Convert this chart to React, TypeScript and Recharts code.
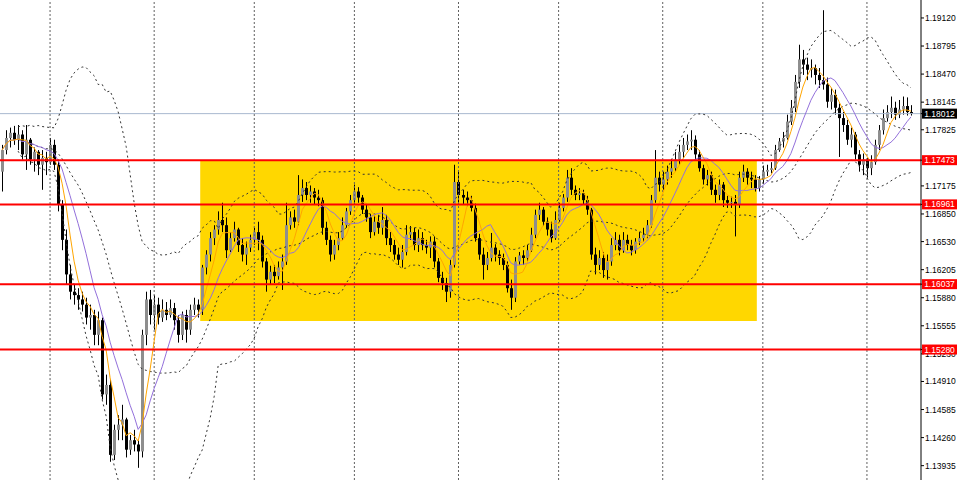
import React from 'react';
import { ComposedChart, Bar, Line, XAxis, YAxis, ReferenceLine, ReferenceArea } from 'recharts';

const opens = [
1.1734,1.1759,1.1773,1.1779,1.1771,1.1777,1.1754,1.1771,1.1748,1.1757,1.1742,1.1750,1.1745,1.1765,1.1742,1.1696,1.1655,1.1615,1.1595,1.1591,
1.1586,1.1580,1.1565,1.1568,1.1545,1.1562,1.1476,1.1487,1.1406,1.1435,1.1441,1.1447,1.1412,1.1423,1.1418,1.1410,1.1545,1.1586,1.1568,1.1580,
1.1565,1.1574,1.1568,1.1576,1.1562,1.1545,1.1568,1.1551,1.1574,1.1580,1.1574,1.1623,1.1638,1.1657,1.1667,1.1678,1.1672,1.1643,1.1657,1.1667,
1.1649,1.1638,1.1646,1.1655,1.1664,1.1655,1.1630,1.1609,1.1618,1.1613,1.1623,1.1630,1.1672,1.1681,1.1676,1.1707,1.1715,1.1707,1.1711,1.1704,
1.1701,1.1669,1.1655,1.1638,1.1649,1.1657,1.1672,1.1688,1.1701,1.1711,1.1704,1.1690,1.1681,1.1664,1.1676,1.1669,1.1678,1.1657,1.1649,1.1638,
1.1632,1.1641,1.1661,1.1664,1.1649,1.1657,1.1649,1.1646,1.1653,1.1630,1.1611,1.1605,1.1595,1.1626,1.1722,1.1707,1.1704,1.1701,1.1692,1.1657,
1.1638,1.1626,1.1634,1.1646,1.1638,1.1634,1.1626,1.1599,1.1588,1.1630,1.1637,1.1634,1.1643,1.1661,1.1684,1.1690,1.1676,1.1667,1.1657,1.1678,
1.1692,1.1704,1.1727,1.1713,1.1707,1.1709,1.1701,1.1690,1.1638,1.1626,1.1634,1.1620,1.1630,1.1649,1.1655,1.1643,1.1655,1.1649,1.1643,1.1653,
1.1657,1.1661,1.1672,1.1701,1.1727,1.1719,1.1725,1.1734,1.1738,1.1748,1.1757,1.1765,1.1769,1.1771,1.1754,1.1738,1.1725,1.1730,1.1713,1.1707,
1.1719,1.1701,1.1698,1.1699,1.1696,1.1727,1.1734,1.1727,1.1725,1.1715,1.1725,1.1734,1.1736,1.1738,1.1759,1.1769,1.1773,1.1792,1.1808,1.1838,
1.1864,1.1858,1.1852,1.1854,1.1846,1.1840,1.1835,1.1815,1.1823,1.1808,1.1796,1.1788,1.1771,1.1777,1.1754,1.1742,1.1748,1.1738,1.1745,1.1765,
1.1782,1.1796,1.1803,1.1808,1.1800,1.1806,1.1810,1.1803
];

const highs = [
1.1765,1.1782,1.1785,1.1787,1.1788,1.1782,1.1788,1.1773,1.1762,1.1759,1.1759,1.1757,1.1773,1.1771,1.1748,1.1701,1.1667,1.1626,1.1603,1.1599,
1.1595,1.1588,1.1580,1.1574,1.1572,1.1565,1.1499,1.1493,1.1441,1.1452,1.1464,1.1449,1.1429,1.1435,1.1423,1.1551,1.1595,1.1597,1.1591,1.1588,
1.1586,1.1583,1.1586,1.1582,1.1568,1.1572,1.1574,1.1580,1.1588,1.1586,1.1626,1.1643,1.1664,1.1672,1.1688,1.1698,1.1681,1.1664,1.1676,1.1669,
1.1657,1.1653,1.1661,1.1669,1.1676,1.1660,1.1634,1.1625,1.1626,1.1630,1.1638,1.1698,1.1688,1.1690,1.1730,1.1725,1.1722,1.1718,1.1715,1.1713,
1.1704,1.1676,1.1660,1.1655,1.1664,1.1681,1.1692,1.1707,1.1719,1.1716,1.1707,1.1696,1.1685,1.1683,1.1684,1.1693,1.1684,1.1664,1.1655,1.1646,
1.1649,1.1672,1.1671,1.1669,1.1667,1.1664,1.1655,1.1659,1.1659,1.1634,1.1618,1.1611,1.1632,1.1742,1.1734,1.1713,1.1711,1.1706,1.1697,1.1662,
1.1646,1.1641,1.1663,1.1650,1.1643,1.1639,1.1630,1.1609,1.1635,1.1641,1.1643,1.1649,1.1669,1.1690,1.1698,1.1693,1.1681,1.1676,1.1688,1.1698,
1.1708,1.1736,1.1738,1.1718,1.1715,1.1713,1.1706,1.1692,1.1646,1.1643,1.1641,1.1638,1.1657,1.1664,1.1661,1.1664,1.1661,1.1655,1.1657,1.1664,
1.1669,1.1678,1.1707,1.1759,1.1734,1.1734,1.1741,1.1748,1.1757,1.1765,1.1773,1.1777,1.1782,1.1776,1.1759,1.1742,1.1736,1.1734,1.1719,1.1725,
1.1722,1.1706,1.1705,1.1707,1.1734,1.1742,1.1738,1.1734,1.1730,1.1729,1.1741,1.1742,1.1745,1.1765,1.1773,1.1780,1.1800,1.1817,1.1846,1.1881,
1.1875,1.1866,1.1864,1.1858,1.1854,1.1921,1.1843,1.1831,1.1829,1.1813,1.1803,1.1794,1.1785,1.1780,1.1759,1.1755,1.1750,1.1753,1.1771,1.1788,
1.1806,1.1811,1.1821,1.1815,1.1817,1.1821,1.1820,1.1811
];

const lows = [
1.1711,1.1754,1.1762,1.1765,1.1759,1.1748,1.1736,1.1742,1.1734,1.1730,1.1713,1.1730,1.1742,1.1736,1.1688,1.1643,1.1603,1.1586,1.1580,1.1574,
1.1572,1.1557,1.1551,1.1533,1.1533,1.1470,1.1464,1.1398,1.1400,1.1423,1.1423,1.1403,1.1406,1.1410,1.1391,1.1403,1.1533,1.1557,1.1551,1.1557,
1.1560,1.1562,1.1565,1.1551,1.1536,1.1539,1.1536,1.1545,1.1568,1.1565,1.1568,1.1615,1.1630,1.1649,1.1661,1.1664,1.1634,1.1641,1.1653,1.1641,
1.1630,1.1626,1.1641,1.1649,1.1643,1.1623,1.1595,1.1603,1.1605,1.1609,1.1597,1.1626,1.1667,1.1669,1.1672,1.1699,1.1701,1.1698,1.1696,1.1694,
1.1661,1.1649,1.1630,1.1632,1.1643,1.1655,1.1669,1.1684,1.1696,1.1698,1.1685,1.1676,1.1657,1.1660,1.1662,1.1661,1.1649,1.1641,1.1632,1.1626,
1.1623,1.1637,1.1655,1.1643,1.1641,1.1643,1.1639,1.1634,1.1623,1.1606,1.1597,1.1583,1.1588,1.1623,1.1698,1.1696,1.1694,1.1688,1.1653,1.1632,
1.1609,1.1620,1.1630,1.1630,1.1626,1.1620,1.1594,1.1574,1.1583,1.1626,1.1626,1.1630,1.1641,1.1657,1.1678,1.1671,1.1660,1.1652,1.1655,1.1675,
1.1688,1.1699,1.1707,1.1701,1.1701,1.1696,1.1684,1.1632,1.1615,1.1620,1.1611,1.1609,1.1625,1.1643,1.1637,1.1640,1.1643,1.1637,1.1639,1.1649,
1.1653,1.1657,1.1669,1.1698,1.1711,1.1713,1.1719,1.1727,1.1734,1.1742,1.1750,1.1759,1.1759,1.1748,1.1734,1.1719,1.1718,1.1707,1.1698,1.1701,
1.1693,1.1692,1.1692,1.1659,1.1692,1.1722,1.1719,1.1715,1.1711,1.1711,1.1720,1.1729,1.1732,1.1736,1.1757,1.1762,1.1771,1.1788,1.1803,1.1831,
1.1846,1.1840,1.1843,1.1835,1.1831,1.1829,1.1808,1.1806,1.1800,1.1751,1.1780,1.1765,1.1762,1.1748,1.1734,1.1730,1.1727,1.1730,1.1742,1.1759,
1.1777,1.1792,1.1796,1.1794,1.1796,1.1800,1.1799,1.1799
];

const closes = [
1.1759,1.1773,1.1779,1.1771,1.1777,1.1754,1.1771,1.1748,1.1757,1.1742,1.1750,1.1745,1.1765,1.1742,1.1696,1.1655,1.1615,1.1595,1.1591,1.1586,
1.1580,1.1565,1.1568,1.1545,1.1562,1.1476,1.1487,1.1406,1.1435,1.1441,1.1447,1.1412,1.1423,1.1418,1.1410,1.1545,1.1586,1.1568,1.1580,1.1565,
1.1574,1.1568,1.1576,1.1562,1.1545,1.1568,1.1551,1.1574,1.1580,1.1574,1.1623,1.1638,1.1657,1.1667,1.1678,1.1672,1.1643,1.1657,1.1667,1.1649,
1.1638,1.1646,1.1655,1.1664,1.1655,1.1630,1.1609,1.1618,1.1613,1.1623,1.1630,1.1672,1.1681,1.1676,1.1707,1.1715,1.1707,1.1711,1.1704,1.1701,
1.1669,1.1655,1.1638,1.1649,1.1657,1.1672,1.1688,1.1701,1.1711,1.1704,1.1690,1.1681,1.1664,1.1676,1.1669,1.1678,1.1657,1.1649,1.1638,1.1632,
1.1641,1.1661,1.1664,1.1649,1.1657,1.1649,1.1646,1.1653,1.1630,1.1611,1.1605,1.1595,1.1626,1.1722,1.1707,1.1704,1.1701,1.1692,1.1657,1.1638,
1.1626,1.1634,1.1646,1.1638,1.1634,1.1626,1.1599,1.1588,1.1630,1.1637,1.1634,1.1643,1.1661,1.1684,1.1690,1.1676,1.1667,1.1657,1.1678,1.1692,
1.1704,1.1727,1.1713,1.1707,1.1709,1.1701,1.1690,1.1638,1.1626,1.1634,1.1620,1.1630,1.1649,1.1655,1.1643,1.1655,1.1649,1.1643,1.1653,1.1657,
1.1661,1.1672,1.1701,1.1727,1.1719,1.1725,1.1734,1.1738,1.1748,1.1757,1.1765,1.1769,1.1771,1.1754,1.1738,1.1725,1.1730,1.1713,1.1707,1.1719,
1.1701,1.1698,1.1699,1.1696,1.1727,1.1734,1.1727,1.1725,1.1715,1.1725,1.1734,1.1736,1.1738,1.1759,1.1769,1.1773,1.1792,1.1808,1.1838,1.1864,
1.1858,1.1852,1.1854,1.1846,1.1840,1.1835,1.1815,1.1823,1.1808,1.1796,1.1788,1.1771,1.1777,1.1754,1.1742,1.1748,1.1738,1.1745,1.1765,1.1782,
1.1796,1.1803,1.1808,1.1800,1.1806,1.1810,1.1803,1.1801
];

// empty bar slots to the right of the last candle (chart shift)
const SHIFT_SLOTS = 2;

const priceTicks = [1.1912, 1.18795, 1.1847, 1.18145, 1.17825, 1.17175, 1.1685, 1.1653, 1.16205, 1.1588, 1.15555, 1.1523, 1.1491, 1.14585, 1.1426, 1.13935];
const levelPrices = [1.17473, 1.16961, 1.16037, 1.1528];
const bidPrice = 1.18012;
const boxFromBar = 50;
const boxToBar = 188;
const boxTop = 1.17473;
const boxBottom = 1.1561;
const gridBars = [12, 38, 63, 88, 114, 139, 165, 190, 216];
const yDomain: [number, number] = [1.13769, 1.19328];

const FAST = 5;
const SLOW = 10;
const BB_PERIOD = 20;
const BB_DEV = 2;

const windowOf = (arr: number[], n: number, i: number) => arr.slice(Math.max(0, i - n + 1), i + 1);
const mean = (w: number[]) => w.reduce((a, b) => a + b, 0) / w.length;

const candleRows = closes.map((c, i) => {
  const bw = windowOf(closes, BB_PERIOD, i);
  const m = mean(bw);
  const sd = Math.sqrt(bw.reduce((a, v) => a + (v - m) * (v - m), 0) / bw.length);
  const showBB = i >= 4;
  return {
    i,
    o: opens[i],
    h: highs[i],
    l: lows[i],
    c,
    range: [lows[i], highs[i]],
    fast: mean(windowOf(closes, FAST, i)),
    slow: mean(windowOf(closes, SLOW, i)),
    bbUp: showBB ? m + BB_DEV * sd : null,
    bbMid: showBB ? m : null,
    bbLow: showBB ? m - BB_DEV * sd : null,
  };
});
const emptyRows = Array.from({ length: SHIFT_SLOTS }, (_, k) => ({ i: closes.length + k }));
const data: any[] = [...candleRows, ...emptyRows];

const FONT = 'Liberation Sans, Arial, sans-serif';

const tagColor = (v: number): string | null => {
  if (Math.abs(v - bidPrice) < 1e-9) return '#000000';
  if (levelPrices.some((p) => Math.abs(p - v) < 1e-9)) return '#ff0000';
  return null;
};

const axisTicks = [...priceTicks, bidPrice, ...levelPrices];

const AxisTick = (props: any) => {
  const { x, y, payload } = props;
  const v = payload.value as number;
  const bg = tagColor(v);
  if (bg) {
    return (
      <g>
        <rect x={x - 3} y={y - 5} width={35} height={10} fill={bg} />
        <text x={x + 14.5} y={y} dy="0.35em" textAnchor="middle" fill="#fff" fontSize={8.5} fontFamily={FONT}>
          {v.toFixed(5)}
        </text>
      </g>
    );
  }
  return (
    <text x={x} y={y} dy="0.35em" textAnchor="start" fill="#000" fontSize={8.5} fontFamily={FONT}>
      {v.toFixed(5)}
    </text>
  );
};

const Candle = (props: any) => {
  const { x, y, width, height, payload } = props;
  if (!payload || payload.o == null || x == null || y == null) return null;
  const { o, h, l, c } = payload;
  const hh = Math.abs(height);
  const top = Math.min(y, y + height);
  const k = h - l === 0 ? 0 : hh / (h - l);
  const yO = top + (h - o) * k;
  const yC = top + (h - c) * k;
  const cx = Math.round(x + width / 2 - 0.5) + 0.5;
  const bTop = Math.min(yO, yC);
  const bH = Math.max(1, Math.abs(yO - yC));
  const bull = c >= o;
  return (
    <g>
      <line x1={cx} x2={cx} y1={top} y2={top + hh} stroke="#000" strokeWidth={1} />
      <rect x={cx - 1.5} y={bTop} width={3} height={bH} fill={bull ? '#8e8e8e' : '#000'} />
    </g>
  );
};

export default function App() {
  return (
    <div style={{ position: 'absolute', left: 0, top: 0, width: 960, height: 480, background: '#fff' }}>
      <ComposedChart width={960} height={480} data={data} margin={{ top: 0, right: 0, bottom: 0, left: 0 }}>
        <XAxis dataKey="i" type="category" hide />
        <YAxis
          orientation="right"
          type="number"
          domain={yDomain}
          allowDataOverflow
          ticks={axisTicks}
          interval={0}
          width={39}
          tick={<AxisTick />}
          tickSize={3}
          tickMargin={1}
          tickLine={{ stroke: '#000' }}
          axisLine={{ stroke: '#000' }}
        />
        <ReferenceArea
          x1={boxFromBar}
          x2={boxToBar}
          y1={boxBottom}
          y2={boxTop}
          fill="#FFD700"
          fillOpacity={1}
          stroke="none"
          ifOverflow="visible"
        />
        {gridBars.map((g) => (
          <ReferenceLine key={'g' + g} x={g} stroke="#606060" strokeDasharray="2 2" strokeWidth={1} />
        ))}
        <ReferenceLine y={bidPrice} stroke="#a9b8cf" strokeWidth={1} />
        <Bar dataKey="range" shape={Candle} barSize={3} isAnimationActive={false} />
        <Line dataKey="bbUp" stroke="#333" strokeDasharray="2 3" strokeWidth={1} dot={false} activeDot={false} isAnimationActive={false} />
        <Line dataKey="bbMid" stroke="#333" strokeDasharray="2 3" strokeWidth={1} dot={false} activeDot={false} isAnimationActive={false} />
        <Line dataKey="bbLow" stroke="#333" strokeDasharray="2 3" strokeWidth={1} dot={false} activeDot={false} isAnimationActive={false} />
        <Line dataKey="slow" stroke="#9370DB" strokeWidth={1} dot={false} activeDot={false} isAnimationActive={false} />
        <Line dataKey="fast" stroke="#FFA500" strokeWidth={1} dot={false} activeDot={false} isAnimationActive={false} />
        {levelPrices.map((p) => (
          <ReferenceLine key={'l' + p} y={p} stroke="#ff0000" strokeWidth={2} />
        ))}
      </ComposedChart>
    </div>
  );
}
